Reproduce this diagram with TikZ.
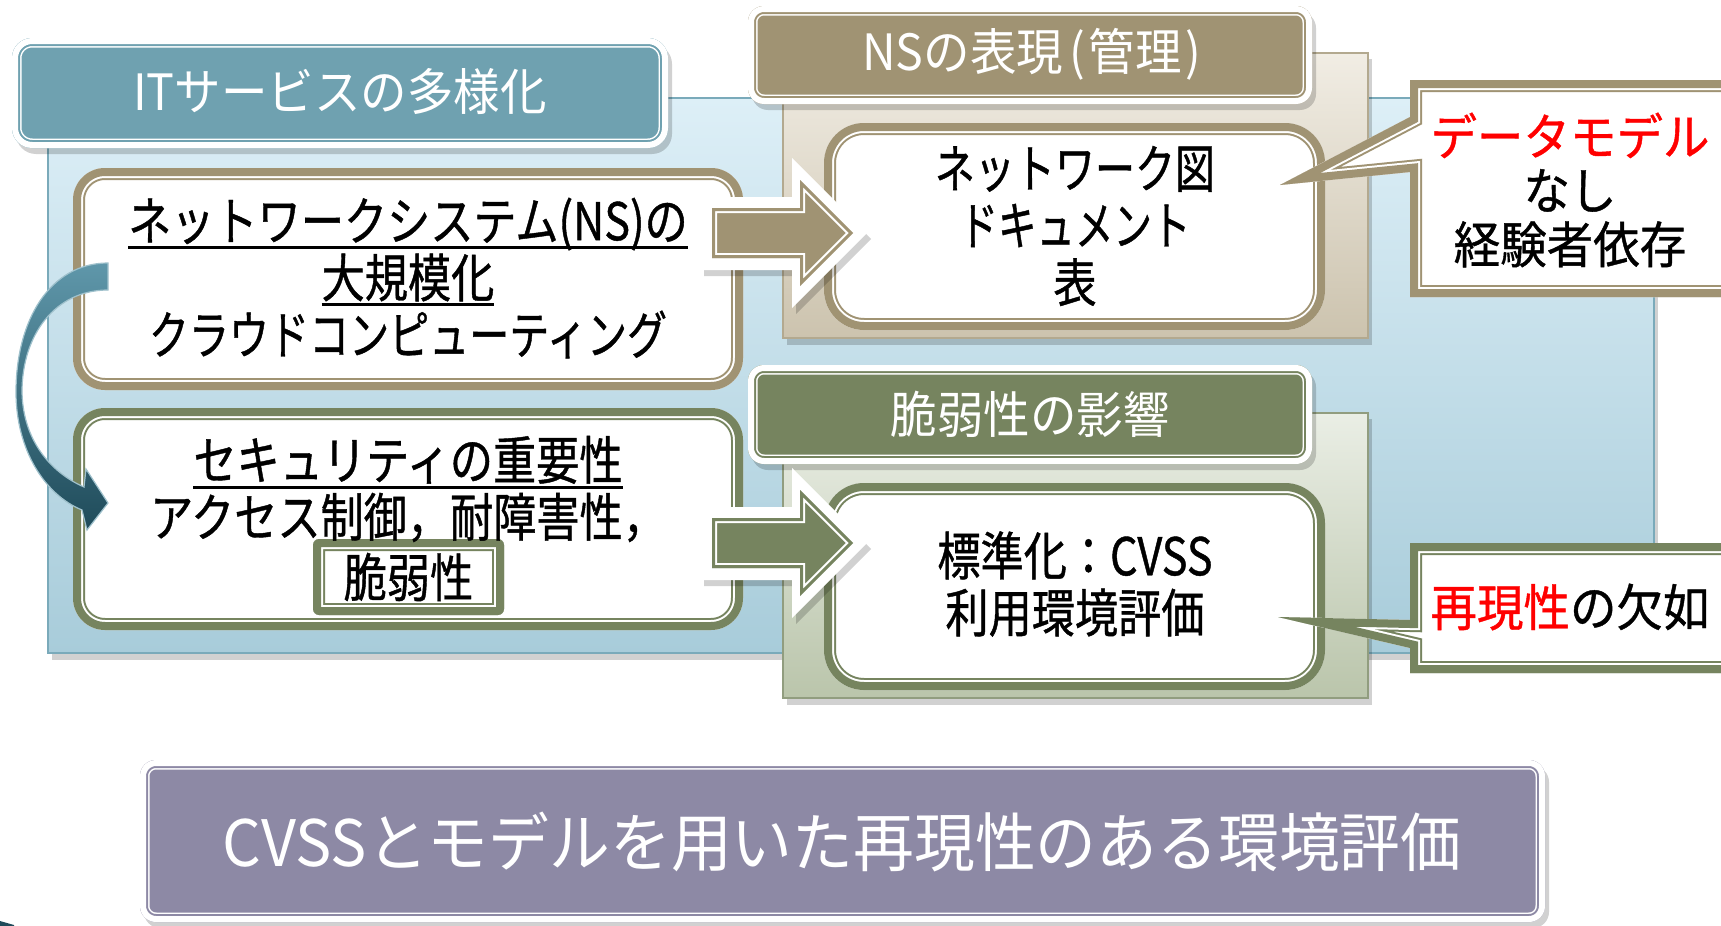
\documentclass[tikz,border=0pt]{standalone}
\usepackage{fontspec}
\setmainfont{Noto Sans CJK JP}
\newfontfamily\bodyf{Noto Sans CJK JP}[FakeStretch=0.83,FakeBold=0.8]
\newfontfamily\bodyn{Noto Sans CJK JP}[FakeStretch=0.77,FakeBold=0.8]
\newfontfamily\bodym{Noto Sans CJK JP}[FakeStretch=0.74,FakeBold=0.8]
\newfontfamily\callf{Noto Sans CJK JP}[FakeStretch=0.93,FakeBold=0.8]
\newfontfamily\botf{Noto Sans CJK JP}[FakeStretch=0.95]
\newfontfamily\hdrf{Noto Sans CJK JP}[FakeStretch=0.93]
\definecolor{tanC}{HTML}{A09373}
\definecolor{grnC}{HTML}{76845F}
\definecolor{tealC}{HTML}{6FA1B0}
\definecolor{purC}{HTML}{8D89A5}
\definecolor{bgTop}{HTML}{DDEFF7}
\definecolor{bgBot}{HTML}{A8CCDA}
\definecolor{bgLine}{HTML}{7AAABA}
\definecolor{tanTop}{HTML}{F1EDE4}
\definecolor{tanBot}{HTML}{CCC3AE}
\definecolor{grnTop}{HTML}{EAEEE5}
\definecolor{grnBot}{HTML}{BAC5AB}
\definecolor{arcTop}{HTML}{5F97AA}
\definecolor{arcBot}{HTML}{1F4B5A}
\definecolor{redT}{HTML}{FF0000}
% band box: colored thick band, white gap, thin colored line, white fill
\newcommand\bandbox[3]{%
\begin{scope}
\clip[#2] #3;
\fill[white,#2] #3;
\draw[#1,#2,line width=12pt] #3;
\draw[white,#2,line width=10pt] #3;
\draw[#1,#2,line width=8pt] #3;
\end{scope}}
% header box: white outer band, thin colored line, thin white line, colored fill
\newcommand\hdrbox[3]{%
\begin{scope}
\clip[#2] #3;
\fill[#1,#2] #3;
\draw[white,#2,line width=9.5pt] #3;
\draw[#1,#2,line width=8pt] #3;
\draw[white,#2,line width=6pt] #3;
\end{scope}}
\newcommand\shadowfill[2]{\fill[black,opacity=.18,#1,shift={(4,6)}] #2;}
\newcommand\myul[1]{\setbox0=\hbox{#1}\rlap{\rule[-4.6pt]{\wd0}{1.5pt}}\box0}
\newcommand\blockarrow[2]{%
\begin{scope}[shift={(0,#2)}]
\fill[black,opacity=.18,shift={(4,6)}] (700,197)--(792,197)--(792,158)--(867,233)--(792,308)--(792,270)--(700,270)--cycle;
\fill[white] (700,197)--(792,197)--(792,158)--(867,233)--(792,308)--(792,270)--(700,270)--cycle;
\begin{scope}
\clip (712,208)--(800,208)--(800,180)--(853,233)--(800,286)--(800,258)--(712,258)--cycle;
\fill[#1] (712,208)--(800,208)--(800,180)--(853,233)--(800,286)--(800,258)--(712,258)--cycle;
\draw[white,line width=5pt] (712,208)--(800,208)--(800,180)--(853,233)--(800,286)--(800,258)--(712,258)--cycle;
\draw[#1,line width=3pt] (712,208)--(800,208)--(800,180)--(853,233)--(800,286)--(800,258)--(712,258)--cycle;
\end{scope}
\end{scope}}
\begin{document}
\begin{tikzpicture}[x=0.5pt,y=-0.5pt,
  bodytxt/.style={font=\bodyf\fontsize{26}{28.5}\selectfont, align=center, inner sep=0pt},
  hdrtxt/.style={font=\hdrf\fontsize{25}{28}\selectfont, text=white, inner sep=0pt},
  calltxt/.style={font=\callf\fontsize{25}{27}\selectfont, align=center, inner sep=0pt}]
\useasboundingbox (0,0) rectangle (1721,926);
\clip (0,0) rectangle (1721,926);
\fill[white] (0,0) rectangle (1721,926);

% blue background
\fill[black,opacity=.18] (52,104) rectangle (1658,660);
\shade[top color=bgTop,bottom color=bgBot,draw=bgLine,line width=.8pt] (48,98) rectangle (1654,653);

% IT header
\shadowfill{rounded corners=10pt}{(12,38) rectangle (668,148)}
\hdrbox{tealC}{rounded corners=10pt}{(12,38) rectangle (668,148)}

% right panels
\fill[black,opacity=.18] (787,59) rectangle (1372,345);
\shade[top color=tanTop,bottom color=tanBot,draw=tanC!80,line width=.8pt] (783,53) rectangle (1368,338);
\fill[black,opacity=.18] (787,419) rectangle (1372,705);
\shade[top color=grnTop,bottom color=grnBot,draw=grnC!80,line width=.8pt] (783,413) rectangle (1368,698);

% panel headers
\shadowfill{rounded corners=8pt}{(748,6) rectangle (1312,104)}
\hdrbox{tanC}{rounded corners=8pt}{(748,6) rectangle (1312,104)}
\shadowfill{rounded corners=8pt}{(748,365) rectangle (1312,464)}
\hdrbox{grnC}{rounded corners=8pt}{(748,365) rectangle (1312,464)}

% left boxes
\bandbox{tanC}{rounded corners=16pt}{(73,168) rectangle (743,390)}
\bandbox{grnC}{rounded corners=16pt}{(73,408) rectangle (743,630)}
\bandbox{grnC}{rounded corners=3pt}{(313,539) rectangle (504,615)}

% inner white boxes
\bandbox{tanC}{rounded corners=20pt}{(824,123) rectangle (1325,330)}
\bandbox{grnC}{rounded corners=20pt}{(824,483) rectangle (1325,690)}

% block arrows
\blockarrow{tanC}{0}
\blockarrow{grnC}{310}

% callouts
\bandbox{tanC}{}{(1410,80)--(1790,80)--(1790,297)--(1410,297)--(1410,172)--(1280,185)--(1410,117)--cycle}
\bandbox{grnC}{}{(1410,543)--(1790,543)--(1790,673)--(1410,673)--(1410,648)--(1278,617)--(1410,620)--cycle}

% curved arrow
\shade[top color=arcTop,bottom color=arcBot,draw=arcTop!60!white,line width=.6pt]
 (108,263) .. controls (50,263) and (16,320) .. (16,392)
 .. controls (16,450) and (45,495) .. (82,510) -- (87,530) -- (108,503) -- (86,469) -- (84,487)
 .. controls (50,472) and (23,440) .. (22,392)
 .. controls (22,335) and (55,290) .. (108,290) -- cycle;
\fill[arcBot] (0,921) -- (14,925) -- (14,926) -- (0,926) -- cycle;

% bottom box
\shadowfill{rounded corners=8pt}{(140,760) rectangle (1545,922)}
\hdrbox{purC}{rounded corners=8pt}{(140,760) rectangle (1545,922)}

% texts
\node[hdrtxt] (hIT) at (340,91) {ITサービスの多様化};
\node[hdrtxt] (hNS) at (1032,54) {NSの表現\hspace{3pt}(\hspace{2pt}管理\hspace{2pt})};
\node[hdrtxt] (hVul) at (1030,414) {脆弱性の影響};
\node[bodytxt] (t1) at (408,278) {\myul{ネットワークシステム(NS)の}\\\myul{大規模化}\\{\bodyn クラウドコンピューティング}};
\node[bodytxt] (t2) at (408,489) {\myul{セキュリティの重要性}\\アクセス制御，耐障害性，};
\node[bodytxt] (t3) at (408.5,577) {脆弱性};
\node[bodytxt] (t4) at (1075,226) {{\bodyn ネットワーク図}\\{\bodym ドキュメント}\\表};
\node[bodytxt] (t5) at (1075,584) {標準化：CVSS\\利用環境評価};
\node[calltxt] (c1) at (1570,190) {\textcolor{redT}{データモデル}\\なし\\経験者依存};
\node[calltxt] (c2) at (1570,607) {\textcolor{redT}{再現性}の欠如};
\node[font=\botf\fontsize{32}{38}\selectfont,text=white,inner sep=0pt] (bot) at (842,842) {CVSSとモデルを用いた再現性のある環境評価};
\end{tikzpicture}
\end{document}
